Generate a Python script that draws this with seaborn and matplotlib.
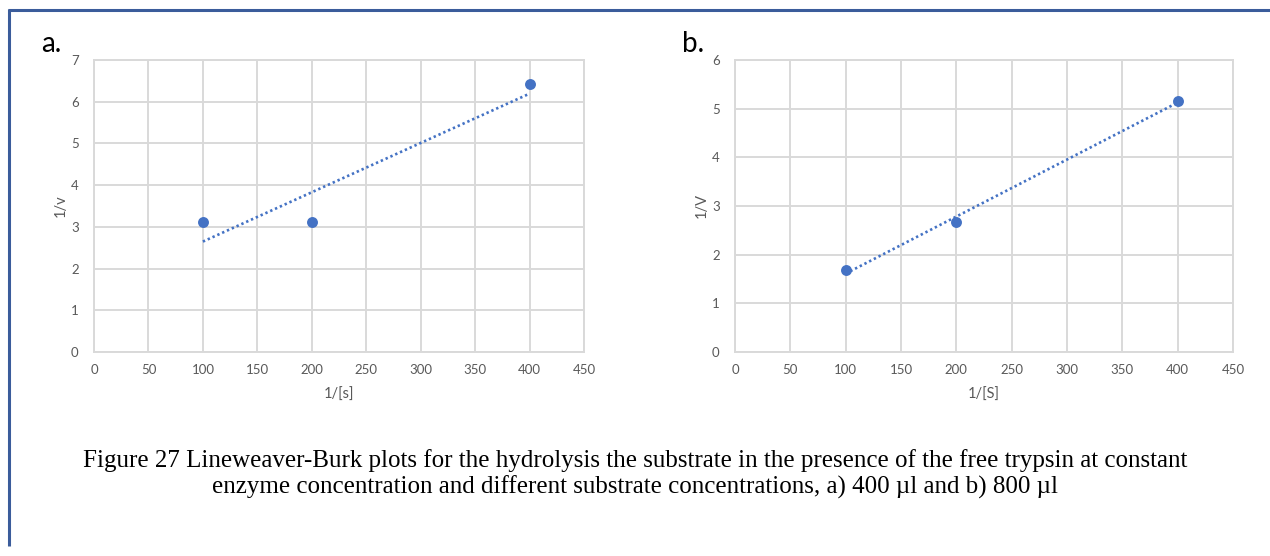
import matplotlib
matplotlib.use("Agg")
import matplotlib.pyplot as plt
from matplotlib.lines import Line2D
import seaborn as sns
import numpy as np

# ---- data ----
x_a = [100, 200, 400]
y_a = [3.12, 3.12, 6.43]
x_b = [100, 200, 400]
y_b = [1.68, 2.68, 5.16]
x_ticks = [0, 50, 100, 150, 200, 250, 300, 350, 400, 450]
y_ticks_a = [0, 1, 2, 3, 4, 5, 6, 7]
y_ticks_b = [0, 1, 2, 3, 4, 5, 6]
xlabel_a = "1/[s]"
xlabel_b = "1/[S]"
ylabel_a = "1/v"
ylabel_b = "1/V"
panel_a = "a."
panel_b = "b."
caption_1 = ("Figure 27 Lineweaver-Burk plots for the hydrolysis the substrate in the "
             "presence of the free trypsin at constant")
caption_2 = ("enzyme concentration and different substrate concentrations, "
             "a) 400 \u00b5l and b) 800 \u00b5l")

BLUE = "#4472C4"
GRID = "#D9D9D9"
TXT = "#595959"
FRAME = "#3B5C9B"

sns.set_theme(style="whitegrid")
plt.rcParams["font.family"] = ["Lato", "DejaVu Sans"]

W, H = 1270, 556
fig = plt.figure(figsize=(W / 100, H / 100), dpi=100)
fig.patch.set_facecolor("white")


def px_axes(l, r, t, b):
    return [l / W, 1 - b / H, (r - l) / W, (b - t) / H]


ax_a = fig.add_axes(px_axes(94, 584, 60, 352))
ax_b = fig.add_axes(px_axes(735, 1233, 60, 352))

for ax, xs, ys, yt, xl, yl in [
    (ax_a, x_a, y_a, y_ticks_a, xlabel_a, ylabel_a),
    (ax_b, x_b, y_b, y_ticks_b, xlabel_b, ylabel_b),
]:
    ax.set_facecolor("white")
    sns.regplot(
        x=np.array(xs), y=np.array(ys), ax=ax, ci=None, truncate=True,
        scatter_kws=dict(s=62, color=BLUE, linewidths=0, zorder=4, alpha=1),
        line_kws=dict(color=BLUE, lw=1.9, dashes=(0.9, 1.1), zorder=3),
    )
    ax.set_xlim(x_ticks[0], x_ticks[-1])
    ax.set_ylim(yt[0], yt[-1])
    ax.set_xticks(x_ticks)
    ax.set_yticks(yt)
    ax.grid(True, color=GRID, lw=1.4)
    for s in ax.spines.values():
        s.set_visible(True)
        s.set_color(GRID)
        s.set_linewidth(1.4)
    ax.tick_params(axis="both", length=0, labelsize=9.5, labelcolor=TXT)
    ax.tick_params(axis="x", pad=9)
    ax.tick_params(axis="y", pad=11)
    ax.set_xlabel(xl, fontsize=10.5, color=TXT, labelpad=8)
    ax.set_ylabel(yl, fontsize=10.5, color=TXT, labelpad=2)

# panel letters
fig.text(41 / W, 1 - 52 / H, panel_a, fontsize=20, color="black", ha="left", va="baseline")
fig.text(682 / W, 1 - 52 / H, panel_b, fontsize=20, color="black", ha="left", va="baseline")

# caption
fig.text(0.5, 1 - 467 / H, caption_1, fontsize=18, family=["Liberation Serif", "DejaVu Serif"],
         color="black", ha="center", va="baseline")
fig.text(0.5, 1 - 494 / H, caption_2, fontsize=18, family=["Liberation Serif", "DejaVu Serif"],
         color="black", ha="center", va="baseline")

# frame (left and top)
fig.add_artist(Line2D([9 / W, 9 / W], [1 - 9 / H, 1 - 546 / H], transform=fig.transFigure,
                      color=FRAME, lw=2.2, solid_capstyle="butt"))
fig.add_artist(Line2D([8 / W, 1.0], [1 - 10 / H, 1 - 10 / H], transform=fig.transFigure,
                      color=FRAME, lw=2.2, solid_capstyle="butt"))

fig.savefig("out.png", dpi=100, facecolor="white")
